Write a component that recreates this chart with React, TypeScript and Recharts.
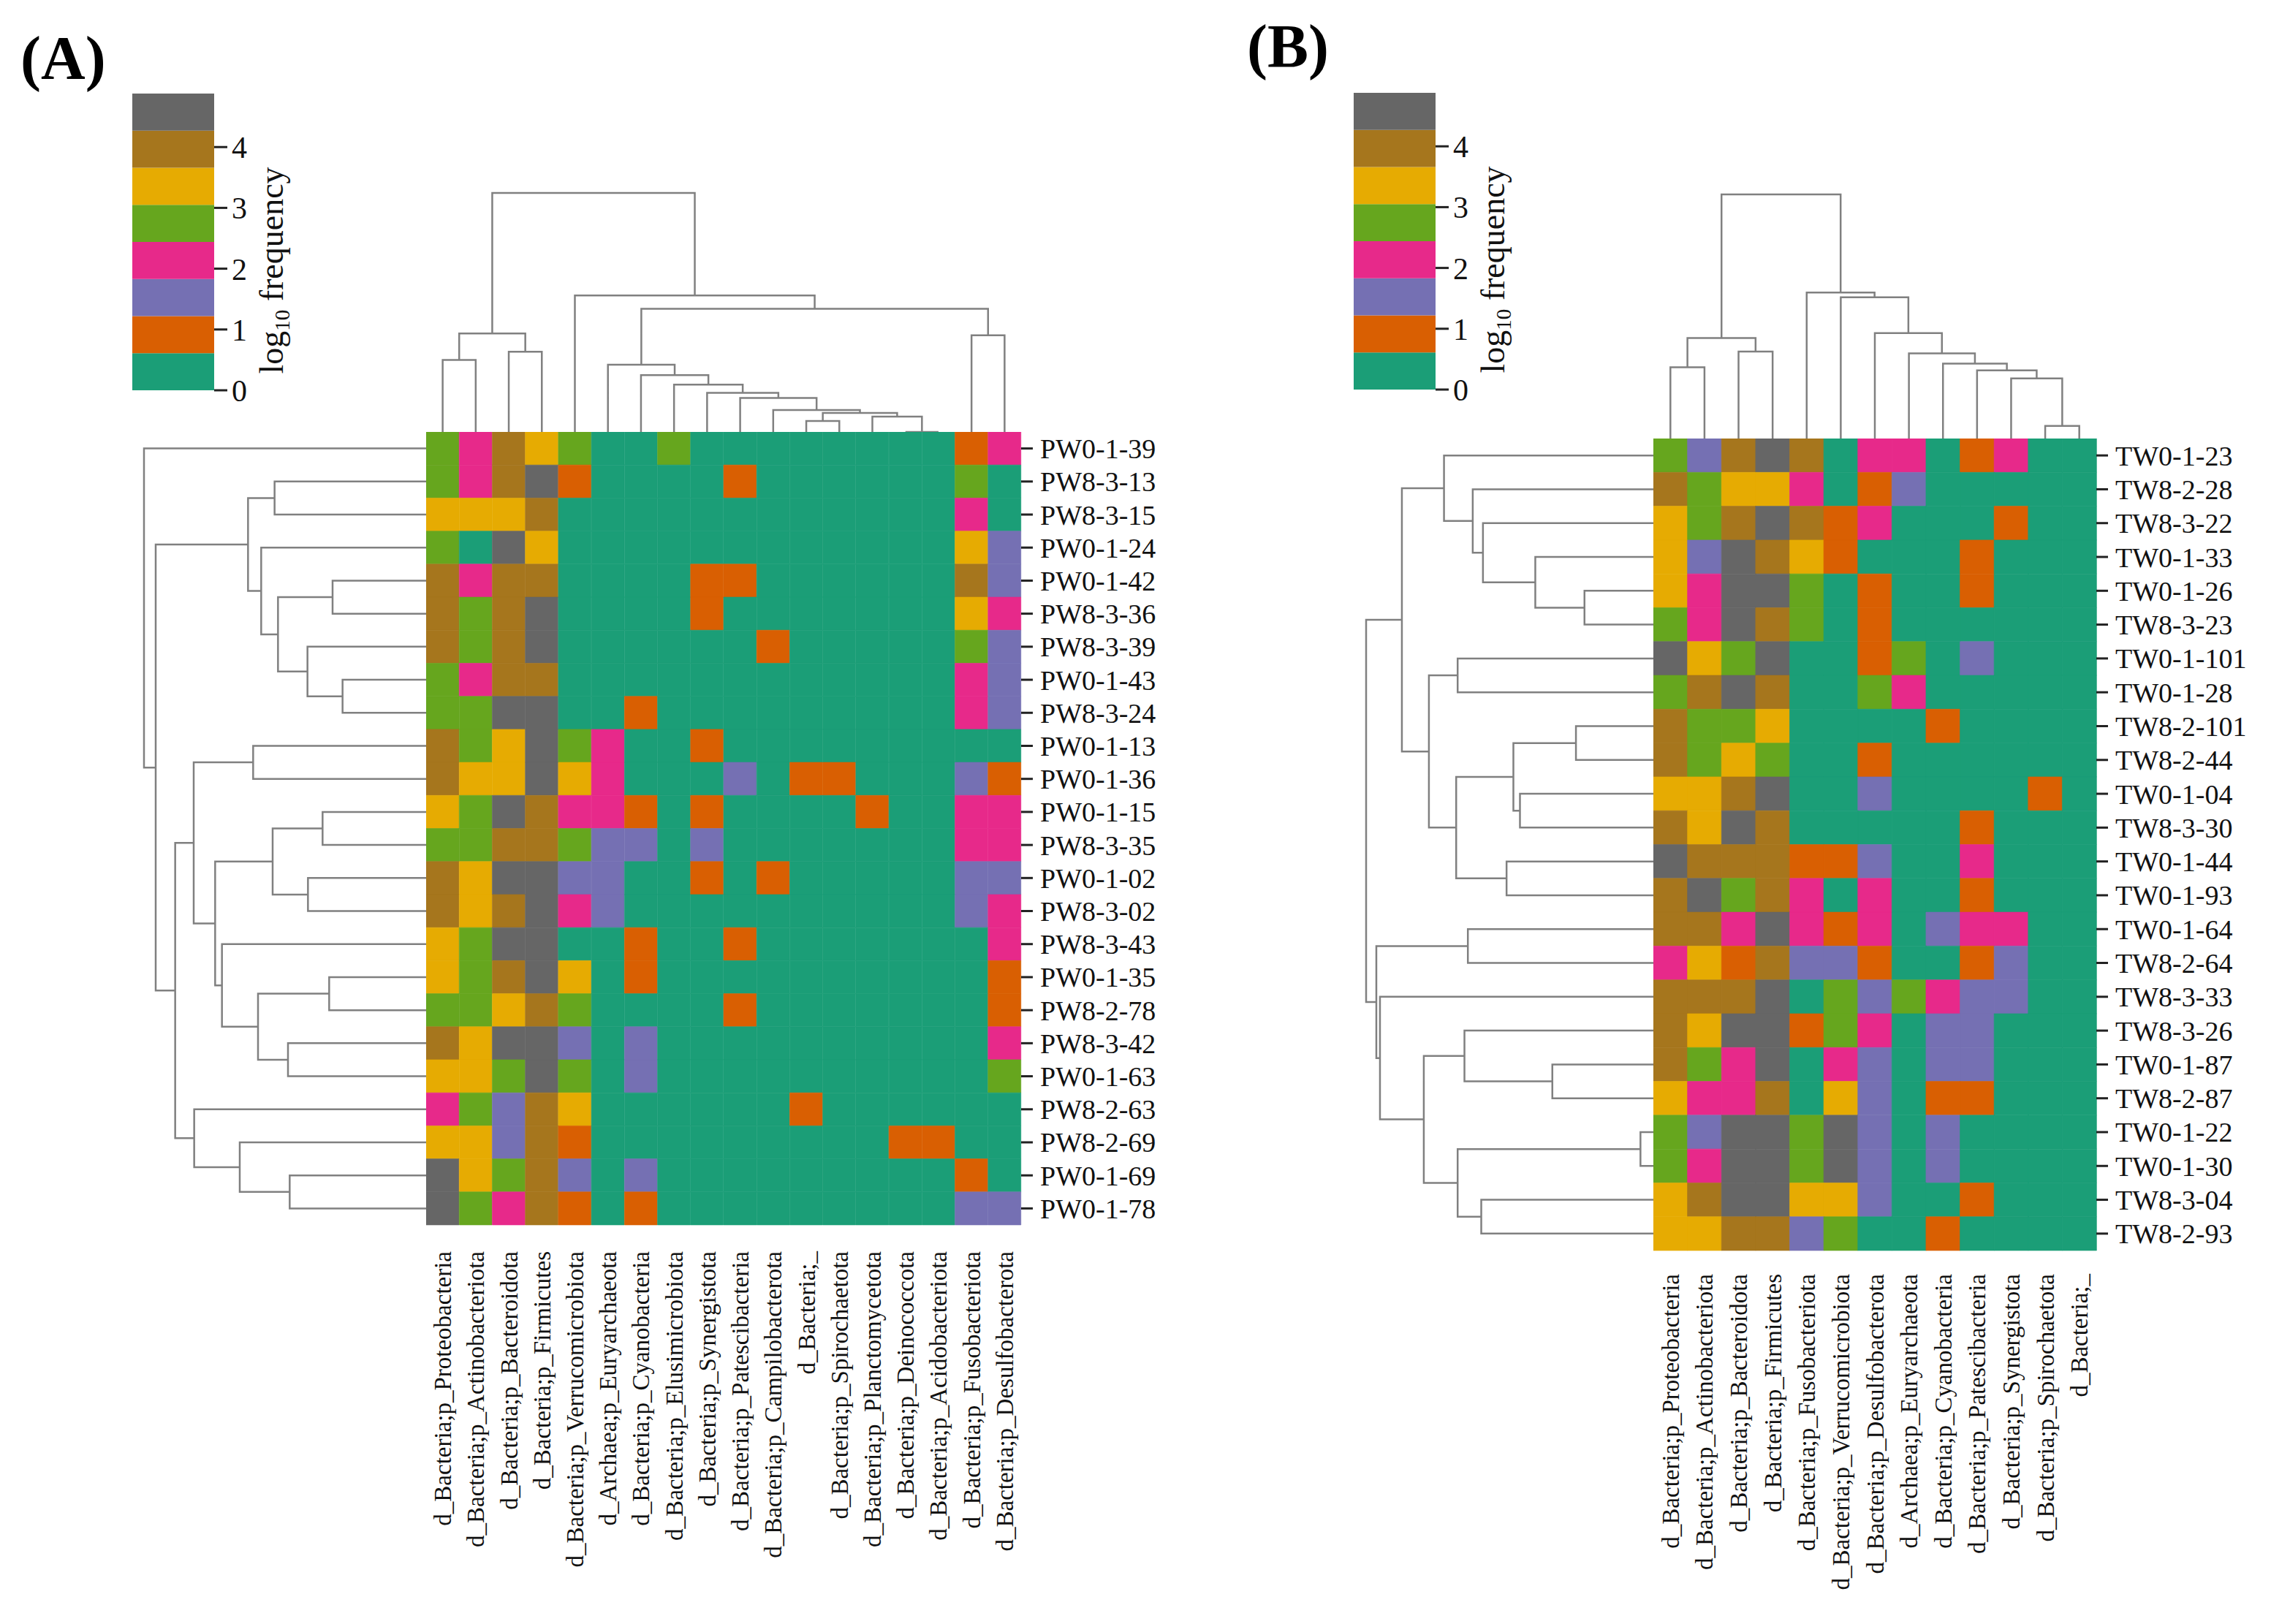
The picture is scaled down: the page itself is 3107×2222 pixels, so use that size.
import { BarChart, Bar, Cell, XAxis, YAxis, LineChart, Line, Label } from "recharts";

const FONT = "'Liberation Serif', 'Times New Roman', serif";
// colour per abundance level (0 = absent ... 7 = highest bin)
const PALETTE = ["#1b9e77", "#d95f02", "#7570b3", "#e7298a", "#66a61e", "#e6ab02", "#a6761d", "#666666"];
const LINK = "#808080";

// ---------- panel A ----------
const phylaA = [
  "d_Bacteria;p_Proteobacteria", "d_Bacteria;p_Actinobacteriota", "d_Bacteria;p_Bacteroidota",
  "d_Bacteria;p_Firmicutes", "d_Bacteria;p_Verrucomicrobiota", "d_Archaea;p_Euryarchaeota",
  "d_Bacteria;p_Cyanobacteria", "d_Bacteria;p_Elusimicrobiota", "d_Bacteria;p_Synergistota",
  "d_Bacteria;p_Patescibacteria", "d_Bacteria;p_Campilobacterota", "d_Bacteria;_",
  "d_Bacteria;p_Spirochaetota", "d_Bacteria;p_Planctomycetota", "d_Bacteria;p_Deinococcota",
  "d_Bacteria;p_Acidobacteriota", "d_Bacteria;p_Fusobacteriota", "d_Bacteria;p_Desulfobacterota",
];
const samplesA = [
  "PW0-1-39", "PW8-3-13", "PW8-3-15", "PW0-1-24", "PW0-1-42", "PW8-3-36", "PW8-3-39", "PW0-1-43",
  "PW8-3-24", "PW0-1-13", "PW0-1-36", "PW0-1-15", "PW8-3-35", "PW0-1-02", "PW8-3-02", "PW8-3-43",
  "PW0-1-35", "PW8-2-78", "PW8-3-42", "PW0-1-63", "PW8-2-63", "PW8-2-69", "PW0-1-69", "PW0-1-78",
];
const levelsA = [
  [4, 3, 6, 5, 4, 0, 0, 4, 0, 0, 0, 0, 0, 0, 0, 0, 1, 3],
  [4, 3, 6, 7, 1, 0, 0, 0, 0, 1, 0, 0, 0, 0, 0, 0, 4, 0],
  [5, 5, 5, 6, 0, 0, 0, 0, 0, 0, 0, 0, 0, 0, 0, 0, 3, 0],
  [4, 0, 7, 5, 0, 0, 0, 0, 0, 0, 0, 0, 0, 0, 0, 0, 5, 2],
  [6, 3, 6, 6, 0, 0, 0, 0, 1, 1, 0, 0, 0, 0, 0, 0, 6, 2],
  [6, 4, 6, 7, 0, 0, 0, 0, 1, 0, 0, 0, 0, 0, 0, 0, 5, 3],
  [6, 4, 6, 7, 0, 0, 0, 0, 0, 0, 1, 0, 0, 0, 0, 0, 4, 2],
  [4, 3, 6, 6, 0, 0, 0, 0, 0, 0, 0, 0, 0, 0, 0, 0, 3, 2],
  [4, 4, 7, 7, 0, 0, 1, 0, 0, 0, 0, 0, 0, 0, 0, 0, 3, 2],
  [6, 4, 5, 7, 4, 3, 0, 0, 1, 0, 0, 0, 0, 0, 0, 0, 0, 0],
  [6, 5, 5, 7, 5, 3, 0, 0, 0, 2, 0, 1, 1, 0, 0, 0, 2, 1],
  [5, 4, 7, 6, 3, 3, 1, 0, 1, 0, 0, 0, 0, 1, 0, 0, 3, 3],
  [4, 4, 6, 6, 4, 2, 2, 0, 2, 0, 0, 0, 0, 0, 0, 0, 3, 3],
  [6, 5, 7, 7, 2, 2, 0, 0, 1, 0, 1, 0, 0, 0, 0, 0, 2, 2],
  [6, 5, 6, 7, 3, 2, 0, 0, 0, 0, 0, 0, 0, 0, 0, 0, 2, 3],
  [5, 4, 7, 7, 0, 0, 1, 0, 0, 1, 0, 0, 0, 0, 0, 0, 0, 3],
  [5, 4, 6, 7, 5, 0, 1, 0, 0, 0, 0, 0, 0, 0, 0, 0, 0, 1],
  [4, 4, 5, 6, 4, 0, 0, 0, 0, 1, 0, 0, 0, 0, 0, 0, 0, 1],
  [6, 5, 7, 7, 2, 0, 2, 0, 0, 0, 0, 0, 0, 0, 0, 0, 0, 3],
  [5, 5, 4, 7, 4, 0, 2, 0, 0, 0, 0, 0, 0, 0, 0, 0, 0, 4],
  [3, 4, 2, 6, 5, 0, 0, 0, 0, 0, 0, 1, 0, 0, 0, 0, 0, 0],
  [5, 5, 2, 6, 1, 0, 0, 0, 0, 0, 0, 0, 0, 0, 1, 1, 0, 0],
  [7, 5, 4, 6, 2, 0, 2, 0, 0, 0, 0, 0, 0, 0, 0, 0, 1, 0],
  [7, 4, 3, 6, 1, 0, 1, 0, 0, 0, 0, 0, 0, 0, 0, 0, 2, 2],
];
// merges: [first leaf, last leaf of left child, last leaf, height]
const colMergesA = [
  [0, 3, 17, 980], [0, 1, 3, 404], [0, 0, 1, 295], [2, 2, 3, 329], [4, 4, 17, 560],
  [5, 15, 17, 505], [5, 5, 15, 276], [6, 6, 15, 233], [7, 7, 15, 194], [8, 8, 15, 160],
  [9, 9, 15, 139], [10, 10, 15, 90], [11, 12, 15, 78], [11, 11, 12, 45], [13, 13, 15, 63],
  [14, 14, 15, 0], [16, 16, 17, 396],
];
const rowMergesA = [
  [0, 0, 23, 1158], [1, 8, 23, 1110], [1, 2, 8, 731], [1, 1, 2, 622], [3, 3, 8, 677],
  [4, 5, 8, 608], [4, 4, 5, 384], [6, 6, 8, 487], [7, 7, 8, 343], [9, 19, 23, 1030],
  [9, 10, 19, 954], [9, 9, 10, 710], [11, 14, 19, 866], [11, 12, 14, 630], [11, 11, 12, 425],
  [13, 13, 14, 485], [15, 15, 19, 838], [16, 17, 19, 690], [16, 16, 17, 398], [18, 18, 19, 567],
  [20, 20, 23, 952], [21, 21, 23, 765], [22, 22, 23, 560],
];

// ---------- panel B ----------
const phylaB = [
  "d_Bacteria;p_Proteobacteria", "d_Bacteria;p_Actinobacteriota", "d_Bacteria;p_Bacteroidota",
  "d_Bacteria;p_Firmicutes", "d_Bacteria;p_Fusobacteriota", "d_Bacteria;p_Verrucomicrobiota",
  "d_Bacteria;p_Desulfobacterota", "d_Archaea;p_Euryarchaeota", "d_Bacteria;p_Cyanobacteria",
  "d_Bacteria;p_Patescibacteria", "d_Bacteria;p_Synergistota", "d_Bacteria;p_Spirochaetota",
  "d_Bacteria;_",
];
const samplesB = [
  "TW0-1-23", "TW8-2-28", "TW8-3-22", "TW0-1-33", "TW0-1-26", "TW8-3-23", "TW0-1-101", "TW0-1-28",
  "TW8-2-101", "TW8-2-44", "TW0-1-04", "TW8-3-30", "TW0-1-44", "TW0-1-93", "TW0-1-64", "TW8-2-64",
  "TW8-3-33", "TW8-3-26", "TW0-1-87", "TW8-2-87", "TW0-1-22", "TW0-1-30", "TW8-3-04", "TW8-2-93",
];
const levelsB = [
  [4, 2, 6, 7, 6, 0, 3, 3, 0, 1, 3, 0, 0],
  [6, 4, 5, 5, 3, 0, 1, 2, 0, 0, 0, 0, 0],
  [5, 4, 6, 7, 6, 1, 3, 0, 0, 0, 1, 0, 0],
  [5, 2, 7, 6, 5, 1, 0, 0, 0, 1, 0, 0, 0],
  [5, 3, 7, 7, 4, 0, 1, 0, 0, 1, 0, 0, 0],
  [4, 3, 7, 6, 4, 0, 1, 0, 0, 0, 0, 0, 0],
  [7, 5, 4, 7, 0, 0, 1, 4, 0, 2, 0, 0, 0],
  [4, 6, 7, 6, 0, 0, 4, 3, 0, 0, 0, 0, 0],
  [6, 4, 4, 5, 0, 0, 0, 0, 1, 0, 0, 0, 0],
  [6, 4, 5, 4, 0, 0, 1, 0, 0, 0, 0, 0, 0],
  [5, 5, 6, 7, 0, 0, 2, 0, 0, 0, 0, 1, 0],
  [6, 5, 7, 6, 0, 0, 0, 0, 0, 1, 0, 0, 0],
  [7, 6, 6, 6, 1, 1, 2, 0, 0, 3, 0, 0, 0],
  [6, 7, 4, 6, 3, 0, 3, 0, 0, 1, 0, 0, 0],
  [6, 6, 3, 7, 3, 1, 3, 0, 2, 3, 3, 0, 0],
  [3, 5, 1, 6, 2, 2, 1, 0, 0, 1, 2, 0, 0],
  [6, 6, 6, 7, 0, 4, 2, 4, 3, 2, 2, 0, 0],
  [6, 5, 7, 7, 1, 4, 3, 0, 2, 2, 0, 0, 0],
  [6, 4, 3, 7, 0, 3, 2, 0, 2, 2, 0, 0, 0],
  [5, 3, 3, 6, 0, 5, 2, 0, 1, 1, 0, 0, 0],
  [4, 2, 7, 7, 4, 7, 2, 0, 2, 0, 0, 0, 0],
  [4, 3, 7, 7, 4, 7, 2, 0, 2, 0, 0, 0, 0],
  [5, 6, 7, 7, 5, 5, 2, 0, 0, 1, 0, 0, 0],
  [5, 5, 6, 6, 2, 4, 0, 0, 1, 0, 0, 0, 0],
];
const colMergesB = [
  [0, 3, 12, 1003], [0, 1, 3, 413], [0, 0, 1, 293], [2, 2, 3, 357], [4, 4, 12, 600],
  [5, 5, 12, 580], [6, 6, 12, 433], [7, 7, 12, 350], [8, 8, 12, 308], [9, 9, 12, 280],
  [10, 10, 12, 247], [11, 11, 12, 52],
];
const rowMergesB = [
  [0, 13, 23, 1180], [0, 5, 13, 1033], [0, 0, 5, 860], [1, 1, 5, 742], [2, 2, 5, 700],
  [3, 3, 5, 485], [4, 4, 5, 283], [6, 7, 13, 922], [6, 6, 7, 804], [8, 11, 13, 810],
  [8, 9, 11, 575], [8, 8, 9, 318], [10, 10, 11, 548], [12, 12, 13, 603], [14, 15, 23, 1138],
  [14, 14, 15, 762], [16, 16, 23, 1123], [17, 19, 23, 943], [17, 17, 19, 776], [18, 18, 19, 415],
  [20, 21, 23, 804], [20, 20, 21, 53], [22, 22, 23, 707],
];

// ---------- colour key ----------
const legendBins = [0.61, 0.61, 0.61, 0.61, 0.61, 0.61, 0.61, 0.61];
const legendTicks = [0, 1, 2, 3, 4];

// turn range-based merges into U-shaped link polylines (null rows break the line)
function dendroPoints(merges: number[][], n: number) {
  const nodes = new Map<string, { p: number; h: number }>();
  for (let i = 0; i < n; i++) nodes.set(`${i}:${i}`, { p: i + 0.5, h: 0 });
  const ordered = [...merges].sort((a, b) => a[2] - a[0] - (b[2] - b[0]));
  const pts: { p: number | null; h: number | null }[] = [];
  ordered.forEach(([a, s, b, h]) => {
    const L = nodes.get(`${a}:${s}`)!;
    const R = nodes.get(`${s + 1}:${b}`)!;
    nodes.set(`${a}:${b}`, { p: (L.p + R.p) / 2, h });
    pts.push({ p: L.p, h: L.h }, { p: L.p, h }, { p: R.p, h }, { p: R.p, h: R.h }, { p: null, h: null });
  });
  return pts;
}

const PAD = 4;

function ColDendrogram({ merges, n, left, top, width, height }: any) {
  const data = dendroPoints(merges, n);
  const maxH = Math.max(...merges.map((m: number[]) => m[3]));
  return (
    <div style={{ position: "absolute", left: left - PAD, top: top - PAD }}>
      <LineChart width={width + 2 * PAD} height={height + PAD} data={data}
        margin={{ top: PAD, right: PAD, left: PAD, bottom: 0 }}>
        <XAxis dataKey="p" type="number" domain={[0, n]} hide />
        <YAxis type="number" domain={[0, maxH]} hide />
        <Line dataKey="h" stroke={LINK} strokeWidth={2.5} dot={false} activeDot={false}
          connectNulls={false} isAnimationActive={false} />
      </LineChart>
    </div>
  );
}

function RowDendrogram({ merges, n, left, top, width, height }: any) {
  const data = dendroPoints(merges, n);
  const maxH = Math.max(...merges.map((m: number[]) => m[3]));
  return (
    <div style={{ position: "absolute", left: left - PAD, top }}>
      <LineChart width={width + PAD} height={height} data={data}
        margin={{ top: 0, right: 0, left: PAD, bottom: 0 }}>
        <XAxis dataKey="h" type="number" domain={[0, maxH]} reversed hide />
        <YAxis type="number" domain={[0, n]} reversed hide />
        <Line dataKey="p" stroke={LINK} strokeWidth={2.5} dot={false} activeDot={false}
          connectNulls={false} isAnimationActive={false} />
      </LineChart>
    </div>
  );
}

// rotated phylum label under each column
const ColTick = ({ x, y, payload, gap }: any) => {
  const ty = y + gap;
  return (
    <text x={x} y={ty} transform={`rotate(-90, ${x}, ${ty})`} textAnchor="end" dy="0.35em"
      fontSize={33} fontFamily={FONT} fill="#111">
      {payload.value}
    </text>
  );
};

function Heatmap({ phyla, samples, levels, left, top, width, height, axisW, axisH, labelGap }: any) {
  const data = phyla.map((name: string) => {
    const entry: any = { name };
    samples.forEach((_: string, r: number) => { entry[`r${r}`] = 1; });
    return entry;
  });
  const ticks = samples.map((_: string, r: number) => r + 0.5);
  return (
    <div style={{ position: "absolute", left, top }}>
      <BarChart width={width + axisW} height={height + axisH} data={data}
        margin={{ top: 0, right: 0, bottom: 0, left: 0 }} barCategoryGap={0} barGap={0}>
        <XAxis dataKey="name" type="category" interval={0} height={axisH}
          tickLine={false} axisLine={false} tickSize={0} tickMargin={0}
          tick={<ColTick gap={labelGap} />} />
        <YAxis orientation="right" type="number" domain={[0, samples.length]} reversed
          ticks={ticks} interval={0} width={axisW} axisLine={false} tickSize={16} tickMargin={10}
          tickLine={{ stroke: "#222", strokeWidth: 3 }}
          tickFormatter={(v: number) => samples[Math.floor(v)]}
          tick={{ fontSize: 38, fontFamily: FONT, fill: "#111" }} />
        {samples.map((s: string, r: number) => (
          <Bar key={s} dataKey={`r${r}`} stackId="cells" isAnimationActive={false}>
            {phyla.map((p: string, c: number) => (
              <Cell key={p} fill={PALETTE[levels[r][c]]} stroke={PALETTE[levels[r][c]]} strokeWidth={0.6} />
            ))}
          </Bar>
        ))}
      </BarChart>
    </div>
  );
}

const LegendTitle = ({ viewBox }: any) => {
  const x = viewBox.x + 94;
  const y = viewBox.y + 242;
  return (
    <text x={x} y={y} transform={`rotate(-90, ${x}, ${y})`} textAnchor="middle"
      fontSize={46} fontFamily={FONT} fill="#111">
      log<tspan fontSize={29} dy={9}>10</tspan><tspan dy={-9}> frequency</tspan>
    </text>
  );
};

function ColorKey({ left, top }: any) {
  const W = 112;
  const H = 406;
  const total = legendBins.reduce((a, b) => a + b, 0);
  const entry: any = { name: "key" };
  legendBins.forEach((v, i) => { entry[`b${i}`] = v; });
  return (
    <div style={{ position: "absolute", left, top }}>
      <BarChart width={W + 150} height={H + 30} data={[entry]}
        margin={{ top: 0, right: 0, bottom: 30, left: 0 }} barCategoryGap={0}>
        <XAxis dataKey="name" hide />
        <YAxis orientation="right" type="number" domain={[0, total]} ticks={legendTicks}
          width={150} axisLine={false} tickSize={18} tickMargin={6}
          tickLine={{ stroke: "#222", strokeWidth: 3 }}
          tick={{ fontSize: 42, fontFamily: FONT, fill: "#111" }}>
          <Label content={(p: any) => <LegendTitle viewBox={p.viewBox} />} />
        </YAxis>
        {legendBins.map((_, i) => (
          <Bar key={i} dataKey={`b${i}`} stackId="key" fill={PALETTE[i]} isAnimationActive={false} />
        ))}
      </BarChart>
    </div>
  );
}

const PanelTitle = ({ text, left, top }: any) => (
  <div style={{ position: "absolute", left, top, fontFamily: FONT, fontWeight: 700, fontSize: 84, lineHeight: 1, color: "#000" }}>
    {text}
  </div>
);

export default function App() {
  return (
    <div style={{ position: "relative", width: 3107, height: 2222, background: "#fff", overflow: "hidden" }}>
      <style>{`body{margin:0}`}</style>

      <PanelTitle text="(A)" left={28} top={38} />
      <ColorKey left={181} top={128} />
      <ColDendrogram merges={colMergesA} n={phylaA.length} left={583} top={264} width={814} height={327} />
      <RowDendrogram merges={rowMergesA} n={samplesA.length} left={197} top={591} width={386} height={1085} />
      <Heatmap phyla={phylaA} samples={samplesA} levels={levelsA} left={583} top={591}
        width={814} height={1085} axisW={220} axisH={525} labelGap={36} />

      <PanelTitle text="(B)" left={1706} top={22} />
      <ColorKey left={1852} top={127} />
      <ColDendrogram merges={colMergesB} n={phylaB.length} left={2262} top={266} width={606} height={334} />
      <RowDendrogram merges={rowMergesB} n={samplesB.length} left={1869} top={600} width={393} height={1111} />
      <Heatmap phyla={phylaB} samples={samplesB} levels={levelsB} left={2262} top={600}
        width={606} height={1111} axisW={230} axisH={505} labelGap={32} />
    </div>
  );
}
